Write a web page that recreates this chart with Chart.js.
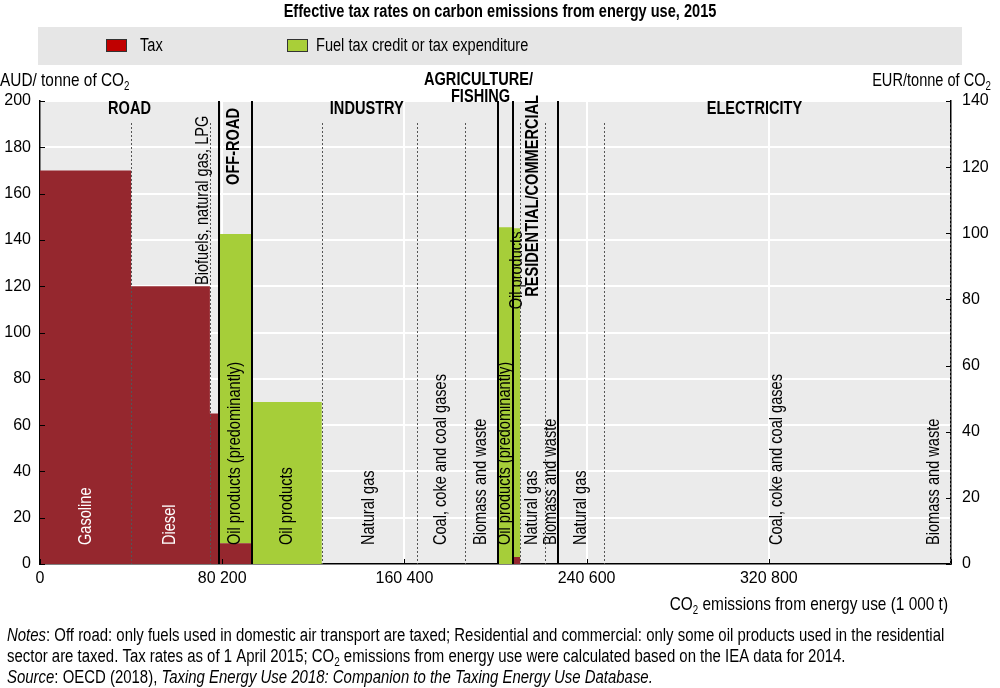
<!DOCTYPE html>
<html>
<head>
<meta charset="utf-8">
<script src="https://cdn.jsdelivr.net/npm/chart.js@4.4.0/dist/chart.umd.min.js"></script>
<style>
  html, body { margin: 0; padding: 0; background: #fff; }
</style>
</head>
<body>
<canvas id="chart" width="1000" height="688"></canvas>
<script>
const FONT = "'Liberation Sans', Arial, sans-serif";
const NARROW = 0.81; // squeeze Liberation Sans to look like Arial Narrow

// sectors and fuels, in the order they sit along the x axis
const sectors = ['ROAD', 'OFF-ROAD', 'INDUSTRY', 'AGRICULTURE/FISHING', 'RESIDENTIAL/COMMERCIAL', 'ELECTRICITY'];
const fuels = [
  'Gasoline', 'Diesel', 'Biofuels, natural gas, LPG',
  'Oil products (predominantly)',
  'Oil products', 'Natural gas', 'Coal, coke and coal gases', 'Biomass and waste',
  'Oil products (predominantly)',
  'Oil products', 'Natural gas', 'Biomass and waste',
  'Natural gas', 'Coal, coke and coal gases', 'Biomass and waste'
];
const fuelSector = [0, 0, 0, 1, 2, 2, 2, 2, 3, 4, 4, 4, 5, 5, 5];
// CO2 emissions from energy use (bar widths)
const emissions = [40.0, 34.6, 4.0, 14.3, 30.8, 41.8, 21.1, 14.5, 6.6, 3.1, 10.9, 5.7, 20.2, 152.0, 0.4];
// AUD / tonne of CO2
const taxRate   = [170, 120, 65, 9, 0, 0, 0, 0, 0, 3, 0, 0, 0, 0, 0];
const taxCredit = [0, 0, 0, 133.5, 70, 0, 0, 0, 145.5, 142, 0, 0, 0, 0, 0];
const xTickLabels = ['0', '80 200', '160 400', '240 600', '320 800', ''];

const RED = '#95272e';
const GREEN = '#a6ce39';

// left edge of each bar
const starts = [];
let total = 0;
emissions.forEach(w => { starts.push(total); total += w; });

const taxPoints = starts.map((s, i) => ({ x: s, y: taxRate[i] }));
taxPoints.push({ x: total, y: 0 });
const creditPoints = starts.map((s, i) => ({ x: s, y: taxRate[i] + taxCredit[i] }));
creditPoints.push({ x: total, y: 0 });

// one line of text made of runs (italic, subscript), squeezed horizontally
function drawRuns(ctx, runs, x, y, align, size, squeeze) {
  const k = squeeze || NARROW;
  const fontOf = r => (r.italic ? 'italic ' : '') + (r.bold ? 'bold ' : '') + (r.sub ? Math.round(size * 0.65) : size) + 'px ' + FONT;
  let w = 0;
  runs.forEach(r => { ctx.font = fontOf(r); w += ctx.measureText(r.t).width * k; });
  let cx = align === 'right' ? x - w : (align === 'center' ? x - w / 2 : x);
  ctx.textAlign = 'left';
  ctx.textBaseline = 'middle';
  runs.forEach(r => {
    ctx.font = fontOf(r);
    ctx.save();
    ctx.translate(cx, r.sub ? y + size * 0.3 : y);
    ctx.scale(k, 1);
    ctx.fillText(r.t, 0, 0);
    ctx.restore();
    cx += ctx.measureText(r.t).width * k;
  });
}

// squeezed text, optionally rotated to read bottom-up
function narrowText(ctx, text, x, y, align, rotated) {
  ctx.save();
  ctx.translate(x, y);
  if (rotated) ctx.rotate(-Math.PI / 2);
  ctx.scale(NARROW, 1);
  ctx.textAlign = align;
  ctx.textBaseline = 'middle';
  ctx.fillText(text, 0, 0);
  ctx.restore();
}

const decorPlugin = {
  id: 'decor',
  beforeDraw(chart) {
    const ctx = chart.ctx;
    const a = chart.chartArea;
    ctx.save();
    ctx.fillStyle = '#fff';
    ctx.fillRect(0, 0, chart.width, chart.height);
    ctx.fillStyle = '#ebebeb';
    ctx.fillRect(a.left, a.top, a.right - a.left, a.bottom - a.top);

    // title
    ctx.fillStyle = '#000';
    ctx.font = 'bold 18px ' + FONT;
    narrowText(ctx, 'Effective tax rates on carbon emissions from energy use, 2015', 500, 12, 'center');

    // legend
    ctx.fillStyle = '#e6e6e6';
    ctx.fillRect(38, 27, 924, 38);
    ctx.lineWidth = 1;
    ctx.strokeStyle = '#333';
    ctx.fillStyle = '#c00000';
    ctx.fillRect(106.5, 39.5, 20, 12);
    ctx.strokeRect(106.5, 39.5, 20, 12);
    ctx.fillStyle = '#a9cf38';
    ctx.fillRect(287.5, 39.5, 20, 12);
    ctx.strokeRect(287.5, 39.5, 20, 12);
    ctx.fillStyle = '#000';
    ctx.font = '18px ' + FONT;
    narrowText(ctx, chart.data.datasets[0].label, 140, 46, 'left');
    narrowText(ctx, chart.data.datasets[1].label, 316, 46, 'left');

    // axis titles
    drawRuns(ctx, [{ t: 'AUD/ tonne of CO' }, { t: '2', sub: true }], 0, 81, 'left', 19);
    drawRuns(ctx, [{ t: 'EUR/tonne of CO' }, { t: '2', sub: true }], 991, 81, 'right', 18);
    drawRuns(ctx, [{ t: 'CO' }, { t: '2', sub: true }, { t: ' emissions from energy use (1 000 t)' }], 948, 605, 'right', 19);

    // notes
    drawRuns(ctx, [{ t: 'Notes', italic: true }, { t: ': Off road: only fuels used in domestic air transport are taxed; Residential and commercial: only some oil products used in the residential' }], 7, 636, 'left', 18, 0.83);
    drawRuns(ctx, [{ t: 'sector are taxed. Tax rates as of 1 April 2015; CO' }, { t: '2', sub: true }, { t: ' emissions from energy use were calculated based on the IEA data for 2014.' }], 7, 657, 'left', 18, 0.83);
    drawRuns(ctx, [{ t: 'Source', italic: true }, { t: ': OECD (2018), ' }, { t: 'Taxing Energy Use 2018: Companion to the Taxing Energy Use Database.', italic: true }], 7, 678, 'left', 18, 0.83);
    ctx.restore();
  },
  afterDatasetsDraw(chart) {
    const ctx = chart.ctx;
    const a = chart.chartArea;
    const xs = chart.scales.x;
    const ys = chart.scales.y;
    ctx.save();

    // separators between fuels (dotted) and sectors (solid)
    for (let i = 1; i < fuels.length; i++) {
      const px = Math.round(xs.getPixelForValue(starts[i]));
      const sameSector = fuelSector[i] === fuelSector[i - 1];
      ctx.beginPath();
      if (sameSector) {
        ctx.setLineDash([2, 2]);
        ctx.strokeStyle = '#555';
        ctx.lineWidth = 1;
        ctx.moveTo(px + 0.5, a.top + 22);
        ctx.lineTo(px + 0.5, a.bottom);
      } else {
        ctx.setLineDash([]);
        ctx.strokeStyle = '#000';
        ctx.lineWidth = 2;
        ctx.moveTo(px, a.top);
        ctx.lineTo(px, a.bottom);
      }
      ctx.stroke();
    }
    ctx.setLineDash([]);

    // small inward tick marks
    ctx.strokeStyle = '#000';
    ctx.lineWidth = 1;
    ctx.beginPath();
    ys.ticks.forEach(t => {
      const py = Math.round(ys.getPixelForValue(t.value)) + 0.5;
      ctx.moveTo(a.left, py); ctx.lineTo(a.left + 5, py);
    });
    const y2 = chart.scales.y2;
    y2.ticks.forEach(t => {
      const py = Math.round(y2.getPixelForValue(t.value)) + 0.5;
      ctx.moveTo(a.right - 5, py); ctx.lineTo(a.right, py);
    });
    xs.ticks.forEach(t => {
      const px = Math.round(xs.getPixelForValue(t.value)) + 0.5;
      ctx.moveTo(px, a.bottom); ctx.lineTo(px, a.bottom - 5);
    });
    ctx.stroke();

    // fuel labels, rotated
    const shift = { 2: { dx: -11, v: 120.5 }, 9: { dx: 0, v: 110 }, 14: { dx: -17 } };
    ctx.font = '18px ' + FONT;
    fuels.forEach((f, i) => {
      const s = shift[i] || {};
      const cx = xs.getPixelForValue(starts[i] + emissions[i] / 2) + (s.dx || 0);
      const cy = ys.getPixelForValue(s.v !== undefined ? s.v : 8.2);
      ctx.fillStyle = i < 2 ? '#fff' : '#000';
      narrowText(ctx, f, cx, cy, 'left', true);
    });

    // sector labels
    const secStart = [], secEnd = [];
    fuelSector.forEach((s, i) => {
      if (secStart[s] === undefined) secStart[s] = starts[i];
      secEnd[s] = starts[i] + emissions[i];
    });
    ctx.font = 'bold 18px ' + FONT;
    ctx.fillStyle = '#000';
    sectors.forEach((name, s) => {
      const cx = (xs.getPixelForValue(secStart[s]) + xs.getPixelForValue(secEnd[s])) / 2;
      if (name === 'OFF-ROAD') {
        narrowText(ctx, name, cx - 1, a.top + 7, 'right', true);
      } else if (name === 'RESIDENTIAL/COMMERCIAL') {
        narrowText(ctx, name, cx - 2, a.top - 6, 'right', true);
      } else if (name === 'AGRICULTURE/FISHING') {
        narrowText(ctx, 'AGRICULTURE/', cx - 27, a.top - 21, 'center');
        narrowText(ctx, 'FISHING', cx - 25, a.top - 4, 'center');
      } else {
        narrowText(ctx, name, cx + (name === 'INDUSTRY' ? -8 : 0), a.top + 8, 'center');
      }
    });
    ctx.restore();
  }
};

const tickFont = { family: FONT, size: 16 };

new Chart(document.getElementById('chart'), {
  type: 'line',
  data: {
    datasets: [
      {
        label: 'Tax',
        data: taxPoints,
        stepped: 'before',
        fill: 'origin',
        backgroundColor: RED,
        borderColor: 'rgba(0,0,0,0)',
        borderWidth: 0,
        pointRadius: 0
      },
      {
        label: 'Fuel tax credit or tax expenditure',
        data: creditPoints,
        stepped: 'before',
        fill: '-1',
        backgroundColor: GREEN,
        borderColor: 'rgba(0,0,0,0)',
        borderWidth: 0,
        pointRadius: 0
      }
    ]
  },
  options: {
    responsive: false,
    animation: false,
    devicePixelRatio: 1,
    layout: { padding: { top: 101, left: 0, right: 0, bottom: 0 } },
    plugins: {
      legend: { display: false },
      tooltip: { enabled: false }
    },
    scales: {
      x: {
        type: 'linear',
        min: 0,
        max: 400,
        ticks: {
          stepSize: 80,
          autoSkip: false,
          maxRotation: 0,
          padding: 5,
          color: '#000',
          font: tickFont,
          callback: (v, i) => xTickLabels[i]
        },
        grid: { color: '#fff', lineWidth: 2, drawTicks: false },
        border: { color: '#000', width: 1.5 },
        afterFit: s => { s.height = 124; }
      },
      y: {
        min: 0,
        max: 200,
        ticks: { stepSize: 20, padding: 9, color: '#000', font: tickFont },
        grid: { color: '#fff', lineWidth: 2, drawTicks: false },
        border: { color: '#000', width: 1.5 },
        afterFit: s => { s.width = 40; }
      },
      y2: {
        position: 'right',
        min: 0,
        max: 140,
        ticks: { stepSize: 20, padding: 11, color: '#000', font: tickFont },
        grid: { drawOnChartArea: false, drawTicks: false },
        border: { color: '#000', width: 1.5 },
        afterFit: s => { s.width = 49; }
      }
    }
  },
  plugins: [decorPlugin]
});
</script>
</body>
</html>
